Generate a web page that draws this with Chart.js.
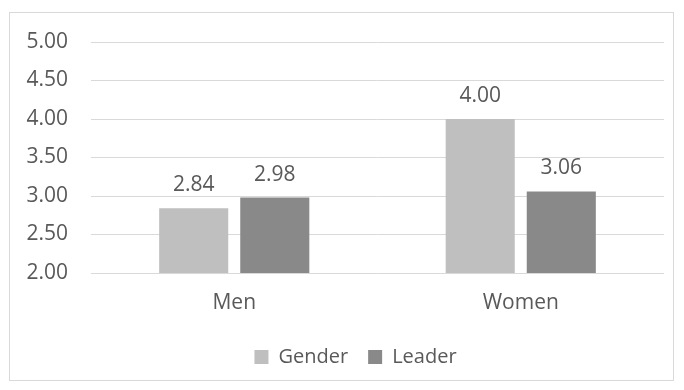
<!DOCTYPE html>
<html>
<head>
<meta charset="utf-8">
<script src="https://cdn.jsdelivr.net/npm/chart.js@4/dist/chart.umd.min.js"></script>
<style>
  body { margin: 0; background: #fff; }
  #cornice {
    position: absolute; left: 9px; top: 12px;
    width: 663px; height: 367px;
    border: 1px solid #d9d9d9;
  }
  #box {
    position: absolute; left: 9px; top: 12px;
    width: 664px; height: 365px;
  }
</style>
</head>
<body>
<div id="cornice"></div>
<div id="box"><canvas id="grafico"></canvas></div>
<script>
// dati
var categorie = ['Men', 'Women'];
var gender = [2.84, 4.00];
var leader = [2.98, 3.06];
var tickMin = 2.0;
var tickMax = 5.0;
var tickStep = 0.5;

var testo = '#595959';
var font = 'Open Sans';

// etichette sopra le barre
var etichette = {
  id: 'etichette',
  afterLayout: function (chart) {
    // legenda centrata come nell'originale (un po' a destra)
    chart.legend.left += 19;
    chart.legend.right += 19;
  },
  afterDatasetsDraw: function (chart) {
    var ctx = chart.ctx;
    ctx.save();
    ctx.fillStyle = testo;
    ctx.font = '21px "' + font + '"';
    ctx.textAlign = 'center';
    ctx.textBaseline = 'alphabetic';
    chart.data.datasets.forEach(function (ds, i) {
      chart.getDatasetMeta(i).data.forEach(function (bar, j) {
        ctx.fillText(ds.data[j].toFixed(2), bar.x, bar.y - 17);
      });
    });
    ctx.restore();
  }
};

new Chart(document.getElementById('grafico'), {
  type: 'bar',
  data: {
    labels: categorie,
    datasets: [{
      label: 'Gender',
      data: gender,
      backgroundColor: '#bfbfbf'
    }, {
      label: 'Leader',
      data: leader,
      backgroundColor: '#898989'
    }]
  },
  options: {
    responsive: true,
    maintainAspectRatio: false,
    animation: false,
    categoryPercentage: 0.566,
    barPercentage: 0.852,
    layout: { padding: { top: 30, right: 9, bottom: 0, left: 0 } },
    plugins: {
      tooltip: { enabled: false },
      legend: {
        position: 'bottom',
        labels: {
          color: testo,
          font: { family: font, size: 20 },
          boxWidth: 14,
          boxHeight: 14,
          padding: 20
        }
      }
    },
    scales: {
      x: {
        grid: { display: false, drawTicks: false },
        border: { display: false },
        ticks: { color: testo, font: { family: font, size: 21, lineHeight: 1.667 }, padding: 13 },
        afterFit: function (scale) { scale.height = 54; }
      },
      y: {
        min: tickMin,
        max: tickMax,
        grid: { color: '#d9d9d9', tickColor: 'rgba(0,0,0,0)', tickLength: 20 },
        border: { display: false },
        ticks: {
          stepSize: tickStep,
          color: testo,
          font: { family: font, size: 21 },
          padding: 3,
          callback: function (v) { return v.toFixed(2); }
        },
        afterFit: function (scale) { scale.width = 82; }
      }
    }
  },
  plugins: [etichette]
});
</script>
</body>
</html>
